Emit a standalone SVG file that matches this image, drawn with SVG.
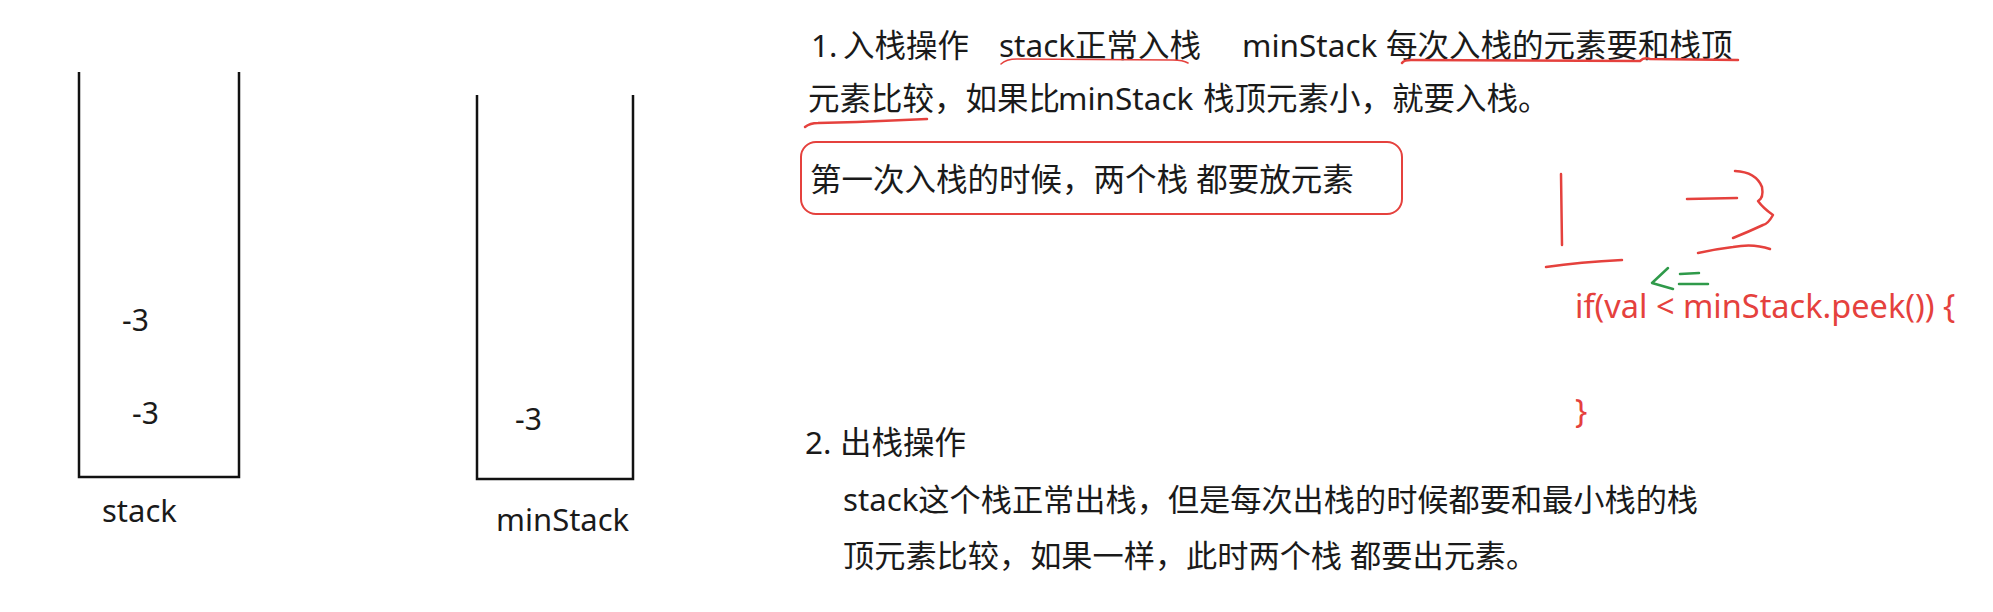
<svg xmlns="http://www.w3.org/2000/svg" width="1993" height="612" viewBox="0 0 1993 612">
<style>
.t{font-family:"Noto Sans","Noto Sans CJK SC",sans-serif;font-size:31.5px;fill:#1a1a1a;white-space:pre}
.lbl{font-family:"Noto Sans","Noto Sans CJK SC",sans-serif;font-size:31px;fill:#1a1a1a}
.num{font-family:"Noto Sans",sans-serif;font-size:30px;fill:#1a1a1a}
.code{font-family:"Noto Sans",sans-serif;font-size:32.5px;fill:#e5413d;white-space:pre}
.cont{fill:none;stroke:#111;stroke-width:2.5}
.ink{fill:none;stroke:#e5413d;stroke-linecap:round;stroke-linejoin:round}
.gink{fill:none;stroke:#2f9a4a;stroke-width:2.5;stroke-linecap:round;stroke-linejoin:round}
</style>
<rect width="1993" height="612" fill="#fff"/>
<g id="stack">
<polyline class="cont" points="79,72 79,477 239,477 239,72"/>
<text class="num" x="122" y="331">-3</text>
<text class="num" x="132" y="424">-3</text>
<text class="lbl" x="102" y="522">stack</text>
</g>
<g id="minStack">
<polyline class="cont" points="477,95 477,479 633,479 633,95"/>
<text class="num" x="515" y="430">-3</text>
<text class="lbl" x="496" y="531">minStack</text>
</g>
<g id="push-text">
<text class="t" y="57"><tspan x="811">1.</tspan><tspan x="843">入栈操作</tspan><tspan x="999">stack正常入栈</tspan><tspan x="1242">minStack</tspan><tspan x="1386">每次入栈的元素要和栈顶</tspan></text>
<text class="t" y="110"><tspan x="808">元素比较，如果比</tspan><tspan x="1058">minStack</tspan><tspan x="1203">栈顶元素小，就要入栈。</tspan></text>
</g>
<g id="first-push-note">
<rect x="801" y="142" width="601" height="72" rx="15" ry="15" fill="none" stroke="#e5413d" stroke-width="2"/>
<text class="t" x="810" y="191">第一次入栈的时候，两个栈 都要放元素</text>
</g>
<g id="pop-text">
<text class="t" y="454"><tspan x="805">2.</tspan><tspan x="840">出栈操作</tspan></text>
<text class="t" x="843" y="511" style="font-size:31.2px">stack这个栈正常出栈，但是每次出栈的时候都要和最小栈的栈</text>
<text class="t" x="843" y="567" style="font-size:31.2px">顶元素比较，如果一样，此时两个栈 都要出元素。</text>
</g>
<g id="code">
<text class="code" x="1575" y="318">if(val &lt; minStack.peek()) {</text>
<text class="code" x="1575" y="423">}</text>
</g>
<g id="annotations">
<path class="ink" stroke-width="1.5" d="M1001,64 Q1006,59 1017,59 L1173,60 Q1183,60 1188,63"/>
<path class="ink" stroke-width="2.5" d="M1402,63 Q1404,60 1411,60 L1640,61 Q1644,57 1650,59 L1738,60"/>
<path class="ink" stroke-width="2.5" d="M805,127 Q810,123 818,123 L857,122 L927,119"/>
<path class="ink" stroke-width="2.5" d="M1561,174 L1562,245"/>
<path class="ink" stroke-width="2.5" d="M1546,267 Q1580,262 1622,260"/>
<path class="ink" stroke-width="2.5" d="M1687,199 L1737,198"/>
<path class="ink" stroke-width="2.5" d="M1735,171 Q1756,172 1762,187 Q1764,198 1758,201 Q1763,208 1773,215 Q1768,224 1763,225 Q1748,232 1733,238"/>
<path class="ink" stroke-width="2.5" d="M1698,253 Q1716,249 1733,247 Q1753,243 1770,249"/>
<path class="gink" d="M1668,268 L1652,283 L1673,289"/>
<path class="gink" d="M1680,274 L1699,273 M1679,284 L1708,284"/>
</g>
</svg>
